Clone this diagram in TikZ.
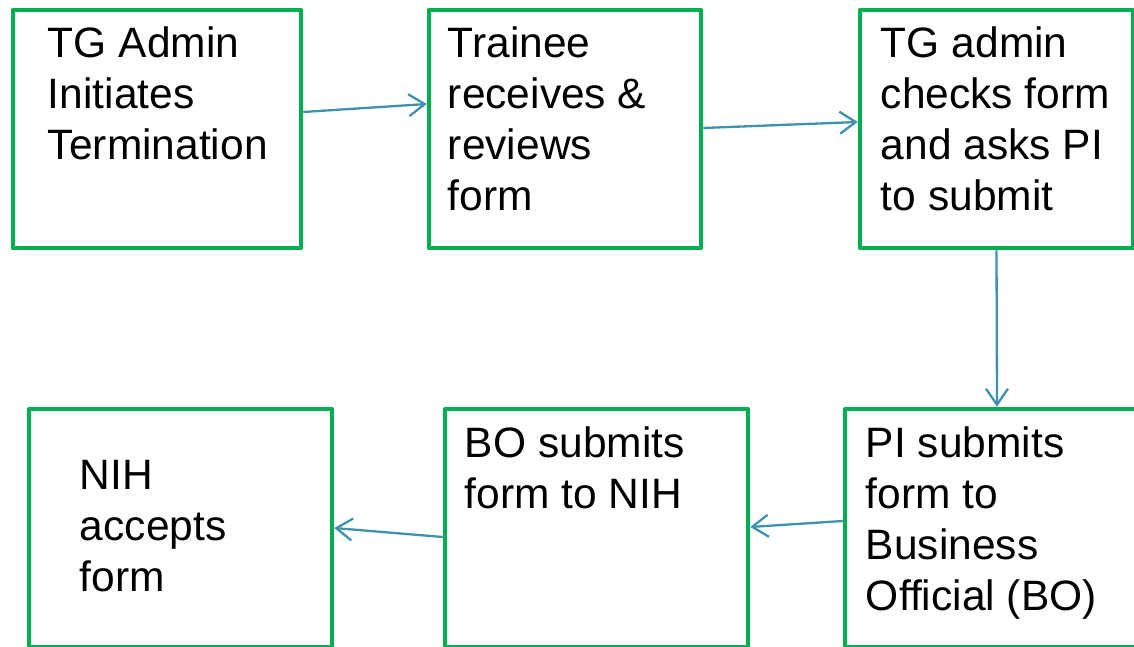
\documentclass[tikz,border=0pt]{standalone}
\usepackage{fontspec}
\setmainfont{Liberation Sans}
\usetikzlibrary{arrows.meta,positioning,calc}
\definecolor{boxgreen}{RGB}{0,176,80}
\definecolor{flowteal}{RGB}{62,146,172}

\begin{document}
\begin{tikzpicture}[x=1pt, y=-1pt,
    stepbox/.style={draw=boxgreen, line width=4.5pt, line join=round, minimum height=238pt, inner sep=0pt},
    steptext/.style={anchor=base west, inner sep=0pt, align=left, font=\fontsize{42.5}{51}\selectfont},
    flow/.style={draw=flowteal, line width=2.3pt, -{Straight Barb[length=16pt, width=22pt]}}]
            \useasboundingbox (0,0) rectangle (1134,647);
            \node[stepbox, minimum width=288pt] (init) at (157,129) {};
            \node[stepbox, minimum width=272pt] (review) at (565,129) {};
            \node[stepbox, minimum width=273pt] (check) at (996.5,129) {};
            \node[stepbox, minimum width=304pt] (pisub) at (997,528) {};
            \node[stepbox, minimum width=303pt] (bosub) at (596.5,528) {};
            \node[stepbox, minimum width=303pt] (accept) at (180.5,528) {};

            % base anchor sits on the last line of each text
            \node[steptext] (init-t) at ([shift={(37,152)}]init.north west) {TG Admin\\Initiates\\Termination};
            \node[steptext] (review-t) at ([shift={(21,203)}]review.north west) {Trainee\\receives \&\\reviews\\form};
            \node[steptext] (check-t) at ([shift={(23,203)}]check.north west) {TG admin\\checks form\\and asks PI\\to submit};
            \node[steptext] (pisub-t) at ([shift={(23,204)}]pisub.north west) {PI submits\\form to\\Business\\Official (BO)};
            \node[steptext] (bosub-t) at ([shift={(22,102)}]bosub.north west) {BO submits\\form to NIH};
            \node[steptext] (accept-t) at ([shift={(53,185)}]accept.north west) {NIH\\accepts\\form};

            \draw[flow] ([yshift=17pt]init.east) -- ([yshift=25pt]review.west);
            \draw[flow] ([yshift=1pt]review.east) -- ([yshift=7pt]check.west);
            \draw[flow] (check.south) -- (pisub.north);
            \draw[flow] ([yshift=7pt]pisub.west) -- ([yshift=1pt]bosub.east);
            \draw[flow] ([yshift=-9pt]bosub.west) -- (accept.east);
        \end{tikzpicture}
\end{document}
